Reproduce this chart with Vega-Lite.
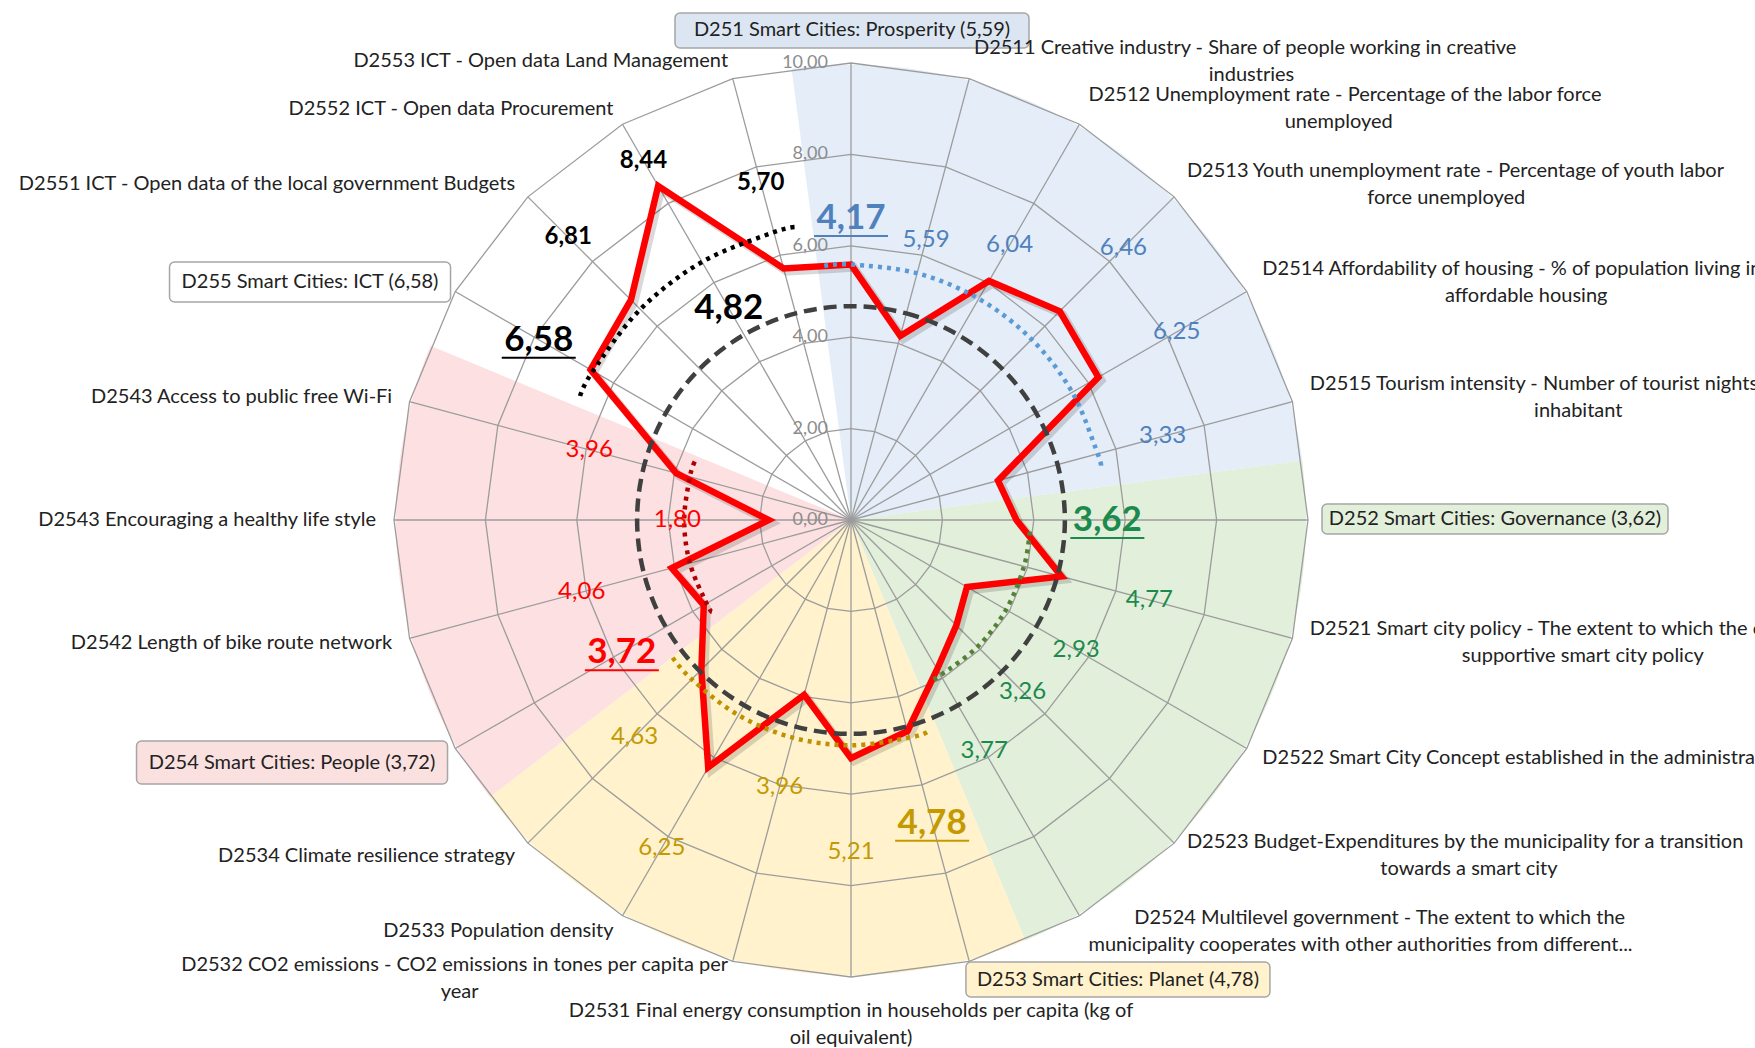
{
"$schema": "https://vega.github.io/schema/vega-lite/v6.json",
"width": 1755,
"height": 1048,
"autosize": {"type": "none"},
"padding": 0,
"background": "#ffffff",
"config": {"view": {"stroke": null}, "font": "Lato", "locale": {"number": {"decimal": ",", "thousands": ".", "grouping": [3], "currency": ["", " €"]}}},
"datasets": {
"cats": [
{"k":0,"grp":"Prosperity","kind":"group","l1":"D251 Smart Cities: Prosperity (5,59)","val":5.59,"avg":4.68},
{"k":1,"grp":"Prosperity","kind":"item","l1":"D2511 Creative industry - Share of people working in creative","l2":"industries","val":4.17,"avg":4.68},
{"k":2,"grp":"Prosperity","kind":"item","l1":"D2512 Unemployment rate - Percentage of the labor force","l2":"unemployed","val":6.04,"avg":4.68},
{"k":3,"grp":"Prosperity","kind":"item","l1":"D2513 Youth unemployment rate - Percentage of youth labor","l2":"force unemployed","val":6.46,"avg":4.68},
{"k":4,"grp":"Prosperity","kind":"item","l1":"D2514 Affordability of housing - % of population living in","l2":"affordable housing","val":6.25,"avg":4.68},
{"k":5,"grp":"Prosperity","kind":"item","l1":"D2515 Tourism intensity - Number of tourist nights per 1000","l2":"inhabitant","val":3.33,"avg":4.68},
{"k":6,"grp":"Governance","kind":"group","l1":"D252 Smart Cities: Governance (3,62)","val":3.62,"avg":4.68},
{"k":7,"grp":"Governance","kind":"item","l1":"D2521 Smart city policy - The extent to which the city has a","l2":"supportive smart city policy","val":4.77,"avg":4.68},
{"k":8,"grp":"Governance","kind":"item","l1":"D2522 Smart City Concept established in the administration","val":2.93,"avg":4.68},
{"k":9,"grp":"Governance","kind":"item","l1":"D2523 Budget-Expenditures by the municipality for a transition","l2":"towards a smart city","val":3.26,"avg":4.68},
{"k":10,"grp":"Governance","kind":"item","l1":"D2524 Multilevel government - The extent to which the","l2":"municipality cooperates with other authorities from different...","val":3.77,"avg":4.68},
{"k":11,"grp":"Planet","kind":"group","l1":"D253 Smart Cities: Planet (4,78)","val":4.78,"avg":4.68},
{"k":12,"grp":"Planet","kind":"item","l1":"D2531 Final energy consumption in households per capita (kg of","l2":"oil equivalent)","val":5.21,"avg":4.68},
{"k":13,"grp":"Planet","kind":"item","l1":"D2532 CO2 emissions - CO2 emissions in tones per capita per","l2":"year","val":3.96,"avg":4.68},
{"k":14,"grp":"Planet","kind":"item","l1":"D2533 Population density","val":6.25,"avg":4.68},
{"k":15,"grp":"Planet","kind":"item","l1":"D2534 Climate resilience strategy","val":4.63,"avg":4.68},
{"k":16,"grp":"People","kind":"group","l1":"D254 Smart Cities: People (3,72)","val":3.72,"avg":4.68},
{"k":17,"grp":"People","kind":"item","l1":"D2542 Length of bike route network","val":4.06,"avg":4.68},
{"k":18,"grp":"People","kind":"item","l1":"D2543 Encouraging a healthy life style","val":1.80,"avg":4.68},
{"k":19,"grp":"People","kind":"item","l1":"D2543 Access to public free Wi-Fi","val":3.96,"avg":4.68},
{"k":20,"grp":"ICT","kind":"group","l1":"D255 Smart Cities: ICT (6,58)","val":6.58,"avg":4.68},
{"k":21,"grp":"ICT","kind":"item","l1":"D2551 ICT - Open data of the local government Budgets","val":6.81,"avg":4.68},
{"k":22,"grp":"ICT","kind":"item","l1":"D2552 ICT - Open data Procurement","val":8.44,"avg":4.68},
{"k":23,"grp":"ICT","kind":"item","l1":"D2553 ICT - Open data Land Management","val":5.70,"avg":4.68}
],
"vlabels": [
{"k":0,"grp":"Prosperity","kind":"group","v":4.17,"r":6.61},
{"k":1,"grp":"Prosperity","kind":"item","v":5.59,"r":6.34},
{"k":2,"grp":"Prosperity","kind":"item","v":6.04,"r":6.94},
{"k":3,"grp":"Prosperity","kind":"item","v":6.46,"r":8.43},
{"k":4,"grp":"Prosperity","kind":"item","v":6.25,"r":8.23},
{"k":5,"grp":"Prosperity","kind":"item","v":3.33,"r":7.06},
{"k":6,"grp":"Governance","kind":"group","v":3.62,"r":5.61},
{"k":7,"grp":"Governance","kind":"item","v":4.77,"r":6.76},
{"k":8,"grp":"Governance","kind":"item","v":2.93,"r":5.69},
{"k":9,"grp":"Governance","kind":"item","v":3.26,"r":5.31},
{"k":10,"grp":"Governance","kind":"item","v":3.77,"r":5.83},
{"k":11,"grp":"Planet","kind":"group","v":4.78,"r":6.86},
{"k":12,"grp":"Planet","kind":"item","v":5.21,"r":7.26},
{"k":13,"grp":"Planet","kind":"item","v":3.96,"r":6.04},
{"k":14,"grp":"Planet","kind":"item","v":6.25,"r":8.28},
{"k":15,"grp":"Planet","kind":"item","v":4.63,"r":6.70},
{"k":16,"grp":"People","kind":"group","v":3.72,"r":5.79},
{"k":17,"grp":"People","kind":"item","v":4.06,"r":6.10},
{"k":18,"grp":"People","kind":"item","v":1.80,"r":3.80},
{"k":19,"grp":"People","kind":"item","v":3.96,"r":5.93},
{"k":20,"grp":"ICT","kind":"group","v":6.58,"r":7.89},
{"k":21,"grp":"ICT","kind":"item","v":6.81,"r":8.75},
{"k":22,"grp":"ICT","kind":"item","v":8.44,"r":9.08},
{"k":23,"grp":"ICT","kind":"item","v":5.70,"r":7.63},
{"k":22,"grp":"Overall","kind":"overall","v":4.82,"r":5.35}
],
"arcs": [
{"grp":"Prosperity","a":-6,"r":5.59},{"grp":"Prosperity","a":0,"r":5.59},{"grp":"Prosperity","a":15,"r":5.59},{"grp":"Prosperity","a":30,"r":5.59},{"grp":"Prosperity","a":45,"r":5.59},{"grp":"Prosperity","a":60,"r":5.59},{"grp":"Prosperity","a":75,"r":5.59},{"grp":"Prosperity","a":78,"r":5.59},
{"grp":"Governance","a":93.7,"r":3.92},{"grp":"Governance","a":105,"r":3.92},{"grp":"Governance","a":120,"r":3.92},{"grp":"Governance","a":135,"r":3.92},{"grp":"Governance","a":150,"r":3.92},{"grp":"Governance","a":154,"r":3.92},
{"grp":"Planet","a":160.3,"r":4.93},{"grp":"Planet","a":165,"r":4.93},{"grp":"Planet","a":180,"r":4.93},{"grp":"Planet","a":195,"r":4.93},{"grp":"Planet","a":210,"r":4.93},{"grp":"Planet","a":225,"r":4.93},{"grp":"Planet","a":233.3,"r":4.93},
{"grp":"People","a":236.5,"r":3.65},{"grp":"People","a":240,"r":3.65},{"grp":"People","a":255,"r":3.65},{"grp":"People","a":270,"r":3.65},{"grp":"People","a":285,"r":3.65},{"grp":"People","a":290.7,"r":3.65},
{"grp":"ICT","a":294.6,"r":6.52},{"grp":"ICT","a":300,"r":6.52},{"grp":"ICT","a":315,"r":6.52},{"grp":"ICT","a":330,"r":6.52},{"grp":"ICT","a":345,"r":6.52},{"grp":"ICT","a":349.5,"r":6.52}
],
"ticks": [{"v":0},{"v":2},{"v":4},{"v":6},{"v":8},{"v":10}],
"wedges": [
{"grp":"Prosperity","t0":-7.5,"t1":82.5},
{"grp":"Governance","t0":82.5,"t1":157.5},
{"grp":"Planet","t0":157.5,"t1":232.5},
{"grp":"People","t0":232.5,"t1":292.5}
]
},
"encoding": {
"x": {"field": "px", "type": "quantitative", "scale": {"domain": [-18.6214, 19.7812], "nice": false, "zero": false}, "axis": null},
"y": {"field": "py", "type": "quantitative", "scale": {"domain": [-11.5536, 11.3786], "nice": false, "zero": false}, "axis": null}
},
"resolve": {"scale": {"color": "independent", "fill": "independent"}},
"layer": [
{
"data": {"name": "wedges"},
"transform": [{"calculate": "0", "as": "px"}, {"calculate": "0", "as": "py"}],
"mark": {"type": "arc"},
"encoding": {
"theta": {"field": "t0", "type": "quantitative", "scale": {"domain": [0, 360], "range": [0, 6.283185307]}, "stack": null},
"theta2": {"field": "t1"},
"radius": {"datum": 9.96, "type": "quantitative", "scale": {"type": "linear", "domain": [0, 10], "range": [0, 457], "zero": true}},
"fill": {"field": "grp", "type": "nominal", "scale": {"domain": ["Prosperity","Governance","Planet","People"], "range": ["#e4edf8","#e2efda","#fff2cc","#fde0e1"]}, "legend": null}
}
},
{
"data": {"name": "cats"},
"transform": [
{"calculate": "[2,4,6,8,10]", "as": "rv"},
{"flatten": ["rv"]},
{"calculate": "datum.rv*sin(datum.k*PI/12)", "as": "px"},
{"calculate": "datum.rv*cos(datum.k*PI/12)", "as": "py"}
],
"mark": {"type": "line", "interpolate": "linear-closed", "color": "#9c9c9c", "strokeWidth": 1.3},
"encoding": {"detail": {"field": "rv", "type": "nominal"}, "order": {"field": "k", "type": "quantitative"}}
},
{
"data": {"name": "cats"},
"transform": [
{"calculate": "0", "as": "px"}, {"calculate": "0", "as": "py"},
{"calculate": "10*sin(datum.k*PI/12)", "as": "ex"},
{"calculate": "10*cos(datum.k*PI/12)", "as": "ey"}
],
"mark": {"type": "rule", "color": "#9c9c9c", "strokeWidth": 1.3},
"encoding": {"x2": {"field": "ex"}, "y2": {"field": "ey"}}
},
{
"data": {"name": "ticks"},
"transform": [{"calculate": "0", "as": "px"}, {"calculate": "datum.v", "as": "py"}],
"mark": {"type": "text", "align": "right", "baseline": "middle", "dx": -23, "fontSize": 18, "font": "Lato", "color": "#8c8c8c"},
"encoding": {"text": {"field": "v", "type": "quantitative", "format": ".2f"}}
},
{
"data": {"name": "cats"},
"transform": [
{"calculate": "datum.val*sin(datum.k*PI/12)+0.07", "as": "px"},
{"calculate": "datum.val*cos(datum.k*PI/12)-0.07", "as": "py"}
],
"mark": {"type": "line", "interpolate": "linear-closed", "color": "#000000", "opacity": 0.15, "strokeWidth": 8, "strokeJoin": "miter"},
"encoding": {"order": {"field": "k", "type": "quantitative"}}
},
{
"data": {"name": "cats"},
"transform": [
{"calculate": "datum.val*sin(datum.k*PI/12)", "as": "px"},
{"calculate": "datum.val*cos(datum.k*PI/12)", "as": "py"}
],
"mark": {"type": "line", "interpolate": "linear-closed", "color": "#ff0000", "strokeWidth": 6.5, "strokeJoin": "miter"},
"encoding": {"order": {"field": "k", "type": "quantitative"}}
},
{
"data": {"name": "cats"},
"transform": [
{"calculate": "datum.avg*sin(datum.k*PI/12)", "as": "px"},
{"calculate": "datum.avg*cos(datum.k*PI/12)", "as": "py"}
],
"mark": {"type": "line", "interpolate": "cardinal-closed", "color": "#404040", "strokeWidth": 4.5, "strokeDash": [13, 7]},
"encoding": {"order": {"field": "k", "type": "quantitative"}}
},
{
"data": {"name": "arcs"},
"transform": [
{"calculate": "datum.r*sin(datum.a*PI/180)", "as": "px"},
{"calculate": "datum.r*cos(datum.a*PI/180)", "as": "py"}
],
"mark": {"type": "line", "interpolate": "cardinal", "strokeWidth": 4.5, "strokeDash": [4, 5]},
"encoding": {
"color": {"field": "grp", "type": "nominal", "scale": {"domain": ["Prosperity","Governance","Planet","People","ICT"], "range": ["#5b9bd5","#548235","#bf9000","#b00000","#000000"]}, "legend": null},
"order": {"field": "a", "type": "quantitative"}
}
},
{
"data": {"name": "vlabels"},
"transform": [
{"calculate": "datum.r*sin(datum.k*PI/12)", "as": "px"},
{"calculate": "datum.r*cos(datum.k*PI/12)", "as": "py"}
],
"layer": [
{
"transform": [{"filter": "datum.kind=='item' && datum.grp!='ICT'"}],
"mark": {"type": "text", "align": "center", "baseline": "middle", "fontSize": 24, "font": "Lato"},
"encoding": {
"text": {"field": "v", "type": "quantitative", "format": ".2f"},
"color": {"field": "grp", "type": "nominal", "scale": {"domain": ["Prosperity","Governance","Planet","People","ICT","Overall"], "range": ["#4f81bd","#1b8a4c","#c49a00","#ff0000","#000000","#000000"]}, "legend": null}
}
},
{
"transform": [{"filter": "datum.kind=='item' && datum.grp=='ICT'"}],
"mark": {"type": "text", "align": "center", "baseline": "middle", "fontSize": 24, "fontWeight": "bold", "font": "Lato"},
"encoding": {
"text": {"field": "v", "type": "quantitative", "format": ".2f"},
"color": {"field": "grp", "type": "nominal", "scale": {"domain": ["Prosperity","Governance","Planet","People","ICT","Overall"], "range": ["#4f81bd","#1b8a4c","#c49a00","#ff0000","#000000","#000000"]}, "legend": null}
}
},
{
"transform": [{"filter": "datum.kind!='item'"}],
"mark": {"type": "text", "align": "center", "baseline": "middle", "fontSize": 35, "fontWeight": "bold", "font": "Lato"},
"encoding": {
"text": {"field": "v", "type": "quantitative", "format": ".2f"},
"color": {"field": "grp", "type": "nominal", "scale": {"domain": ["Prosperity","Governance","Planet","People","ICT","Overall"], "range": ["#4f81bd","#1b8a4c","#c49a00","#ff0000","#000000","#000000"]}, "legend": null}
}
}
]
},
{
"data": {"name": "vlabels"},
"transform": [
{"filter": "datum.kind=='group'"},
{"calculate": "datum.r*sin(datum.k*PI/12)-37/45.7", "as": "px"},
{"calculate": "datum.r*sin(datum.k*PI/12)+37/45.7", "as": "px2"},
{"calculate": "datum.r*cos(datum.k*PI/12)-18/45.7", "as": "py"}
],
"mark": {"type": "rule", "strokeWidth": 2},
"encoding": {
"x2": {"field": "px2"},
"y2": {"field": "py"},
"color": {"field": "grp", "type": "nominal", "scale": {"domain": ["Prosperity","Governance","Planet","People","ICT","Overall"], "range": ["#4f81bd","#1b8a4c","#c49a00","#ff0000","#000000","#000000"]}, "legend": null}
}
},
{
"data": {"name": "cats"},
"transform": [
{"filter": "datum.kind=='group'"},
{"calculate": "10.394*sin(datum.k*PI/12) + (datum.k==0 ? 1 : datum.k==6 ? 169 : datum.k==11 ? 144 : datum.k==16 ? -147.6 : -129.6)/45.7", "as": "px"},
{"calculate": "10.394*cos(datum.k*PI/12) - (datum.k==0 ? -14.5 : datum.k==6 ? -1 : datum.k==11 ? 0.7 : datum.k==16 ? 5 : -0.5)/45.7", "as": "py"}
],
"layer": [
{
"mark": {"type": "point", "filled": true, "size": 4, "opacity": 1, "stroke": "#a6a6a6", "strokeWidth": 1.5},
"encoding": {
"shape": {"field": "grp", "type": "nominal", "scale": {"domain": ["Prosperity","Governance","Planet","People","ICT"], "range": [
"M-172,-17.5H172A5,5,0,0,1,177,-12.5V12.5A5,5,0,0,1,172,17.5H-172A5,5,0,0,1,-177,12.5V-12.5A5,5,0,0,1,-172,-17.5Z",
"M-168,-15H168A5,5,0,0,1,173,-10V10A5,5,0,0,1,168,15H-168A5,5,0,0,1,-173,10V-10A5,5,0,0,1,-168,-15Z",
"M-147,-17.5H147A5,5,0,0,1,152,-12.5V12.5A5,5,0,0,1,147,17.5H-147A5,5,0,0,1,-152,12.5V-12.5A5,5,0,0,1,-147,-17.5Z",
"M-150.5,-21.5H150.5A5,5,0,0,1,155.5,-16.5V16.5A5,5,0,0,1,150.5,21.5H-150.5A5,5,0,0,1,-155.5,16.5V-16.5A5,5,0,0,1,-150.5,-21.5Z",
"M-135.5,-20H135.5A5,5,0,0,1,140.5,-15V15A5,5,0,0,1,135.5,20H-135.5A5,5,0,0,1,-140.5,15V-15A5,5,0,0,1,-135.5,-20Z"
]}, "legend": null},
"fill": {"field": "grp", "type": "nominal", "scale": {"domain": ["Prosperity","Governance","Planet","People","ICT"], "range": ["#dce6f2","#e2efda","#fff2cc","#fbe0e0","#ffffff"]}, "legend": null}
}
},
{
"mark": {"type": "text", "align": "center", "baseline": "middle", "fontSize": 20, "font": "Lato", "color": "#222222"},
"encoding": {"text": {"field": "l1", "type": "nominal"}}
}
]
},
{
"data": {"name": "cats"},
"transform": [
{"filter": "datum.kind=='item'"},
{"fold": ["l1", "l2"], "as": ["line", "txt"]},
{"filter": "isValid(datum.txt)"},
{"calculate": "10.394*sin(datum.k*PI/12)", "as": "ax"},
{"calculate": "10.394*cos(datum.k*PI/12)", "as": "ay"},
{"calculate": "isValid(datum.l2) ? 2 : 1", "as": "nl"},
{"calculate": "max(length(datum.l1), isValid(datum.l2) ? length(datum.l2) : 0)", "as": "nmax"},
{"calculate": "length(datum.txt) == datum.nmax", "as": "isLong"},
{"calculate": "datum.k==12 ? 'c' : (datum.k<12 ? 'r' : 'l')", "as": "side"},
{"calculate": "datum.side=='c' ? 'center' : (datum.isLong ? (datum.side=='r' ? 'left' : 'right') : 'center')", "as": "al"},
{"calculate": "datum.ax + ((datum.isLong || datum.side=='c') ? 0 : (datum.side=='r' ? 1 : -1) * datum.nmax * 9.1 / 2 / 45.7)", "as": "px"},
{"calculate": "datum.k==12 ? datum.ay - (datum.line=='l1' ? 16 : 43)/45.7 : datum.ay + (datum.nl==2 ? (datum.line=='l1' ? 13.5 : -13.5) : 0)/45.7", "as": "py"}
],
"layer": [
{
"transform": [{"filter": "datum.al=='left'"}],
"mark": {"type": "text", "align": "left", "baseline": "middle", "fontSize": 20, "font": "Lato", "color": "#222222"},
"encoding": {"text": {"field": "txt", "type": "nominal"}}
},
{
"transform": [{"filter": "datum.al=='right'"}],
"mark": {"type": "text", "align": "right", "baseline": "middle", "fontSize": 20, "font": "Lato", "color": "#222222"},
"encoding": {"text": {"field": "txt", "type": "nominal"}}
},
{
"transform": [{"filter": "datum.al=='center'"}],
"mark": {"type": "text", "align": "center", "baseline": "middle", "fontSize": 20, "font": "Lato", "color": "#222222"},
"encoding": {"text": {"field": "txt", "type": "nominal"}}
}
]
}
]
}
